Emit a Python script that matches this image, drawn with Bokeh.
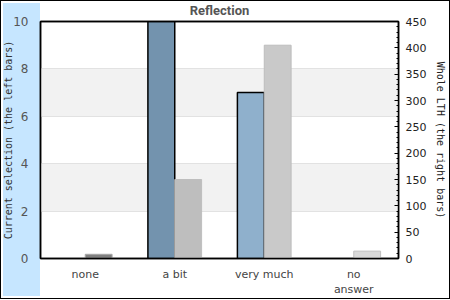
from bokeh.plotting import figure
from bokeh.models import (ColumnDataSource, FactorRange, Range1d, LinearAxis,
                          CategoricalAxis, FixedTicker, Title, CustomJSTickFormatter)
from bokeh.transform import dodge
from bokeh.embed import file_html
from bokeh.resources import INLINE

categories = ["none", "a bit", "very much", "no answer"]
current_selection = [0, 10, 7, 0]
whole_lth = [8, 150, 405, 14]
left_ticks = [0, 2, 4, 6, 8, 10]
right_ticks = [0, 50, 100, 150, 200, 250, 300, 350, 400, 450]

left_colors = ["#7393AE", "#7393AE", "#8FB0CC", "#8FB0CC"]
right_colors = ["#808080", "#BEBEBE", "#C9C9C9", "#D9D9D9"]
right_lines = ["#A8A8A8", "#BEBEBE", "#BDBDBD", "#BFBFBF"]
left_line_alpha = [1 if v > 0 else 0 for v in current_selection]

src = ColumnDataSource(dict(cat=categories, cur=current_selection, whole=whole_lth,
                            lc=left_colors, rc=right_colors, rl=right_lines,
                            la=left_line_alpha))

p = figure(width=450, height=299, x_range=FactorRange(*categories, range_padding=0),
           y_range=Range1d(0, 10), output_backend="svg", toolbar_location=None,
           min_border_left=40, min_border_right=52, min_border_top=21, min_border_bottom=41)
p.extra_y_ranges = {"whole": Range1d(0, 450)}
xa = p.xaxis[0]

# page-level styling: blue band on the left and an outer black frame
p.border_fill_alpha = 0
p.styles = {
    "background-color": "white",
    "background-image": "linear-gradient(#C6E6FF, #C6E6FF)",
    "background-size": "37px 293px",
    "background-position": "3px 3px",
    "background-repeat": "no-repeat",
    "outline": "1.5px solid black",
    "outline-offset": "-1.5px",
}

p.vbar(x=dodge("cat", -0.15, range=p.x_range), top="cur", width=0.3, source=src,
       fill_color="lc", line_color="black", line_alpha="la", line_width=1.5)
p.vbar(x=dodge("cat", 0.15, range=p.x_range), top="whole", width=0.3, source=src,
       fill_color="rc", line_color="rl", line_width=1, y_range_name="whole")

p.title = Title(text="Reflection", align="center", text_font="Roboto",
                text_font_size="13px", text_font_style="bold", text_color="#555555",
                offset=0, standoff=-4)

p.outline_line_color = "black"
p.outline_line_width = 1.5
p.xgrid.grid_line_color = None
p.ygrid.grid_line_color = "#E2E2E2"
p.ygrid.band_fill_color = "#F2F2F2"
p.ygrid.band_fill_alpha = 1
p.ygrid.ticker = FixedTicker(ticks=left_ticks)

ya = p.yaxis[0]
ya.ticker = FixedTicker(ticks=left_ticks)
ya.axis_label = "Current selection (the left bars)"
ya.axis_label_text_font = "DejaVu Sans Mono"
ya.axis_label_text_font_size = "10px"
ya.axis_label_text_font_style = "normal"
ya.axis_label_text_color = "#333333"
ya.axis_label_standoff = -4
ya.major_label_text_font = "DejaVu Sans"
ya.major_label_text_font_size = "12px"
ya.major_label_text_color = "#555555"
ya.major_tick_line_color = None
ya.minor_tick_line_color = None
ya.axis_line_color = "black"
ya.axis_line_width = 1.5
ya.major_label_standoff = 6

ra = LinearAxis(y_range_name="whole", ticker=FixedTicker(ticks=right_ticks,
                minor_ticks=list(range(0, 451, 10))))
ra.axis_label = "Whole LTH (the right bars)"
ra.axis_label_text_font = "DejaVu Sans Mono"
ra.axis_label_text_font_size = "10px"
ra.axis_label_text_font_style = "normal"
ra.axis_label_text_color = "#222222"
ra.axis_label_standoff = 6
ra.major_label_text_font = "DejaVu Sans"
ra.major_label_text_font_size = "11px"
ra.major_label_text_color = "#222222"
ra.major_tick_in = 4
ra.major_tick_out = 0
ra.minor_tick_in = 2
ra.minor_tick_out = 0
ra.major_label_standoff = 7
ra.axis_line_color = "black"
ra.axis_line_width = 1.5
p.add_layout(ra, "right")

# top edge of the plot frame, drawn as a bare axis line
top_axis = CategoricalAxis(major_label_text_alpha=0, major_label_text_font_size="1px",
                           major_tick_line_color=None, minor_tick_line_color=None,
                           axis_line_color="black", axis_line_width=1.5,
                           major_label_standoff=0)
p.add_layout(top_axis, "above")

xa.formatter = CustomJSTickFormatter(
    code="const t = String(tick); return t === 'no answer' ? 'no\\nanswer' : t")
xa.major_label_text_font = "DejaVu Sans"
xa.major_label_text_font_size = "11px"
xa.major_label_text_color = "#444444"
xa.major_tick_line_color = None
xa.axis_line_color = "black"
xa.axis_line_width = 1.5
xa.major_label_standoff = 3

open("out.html", "w").write(file_html(p, INLINE))
